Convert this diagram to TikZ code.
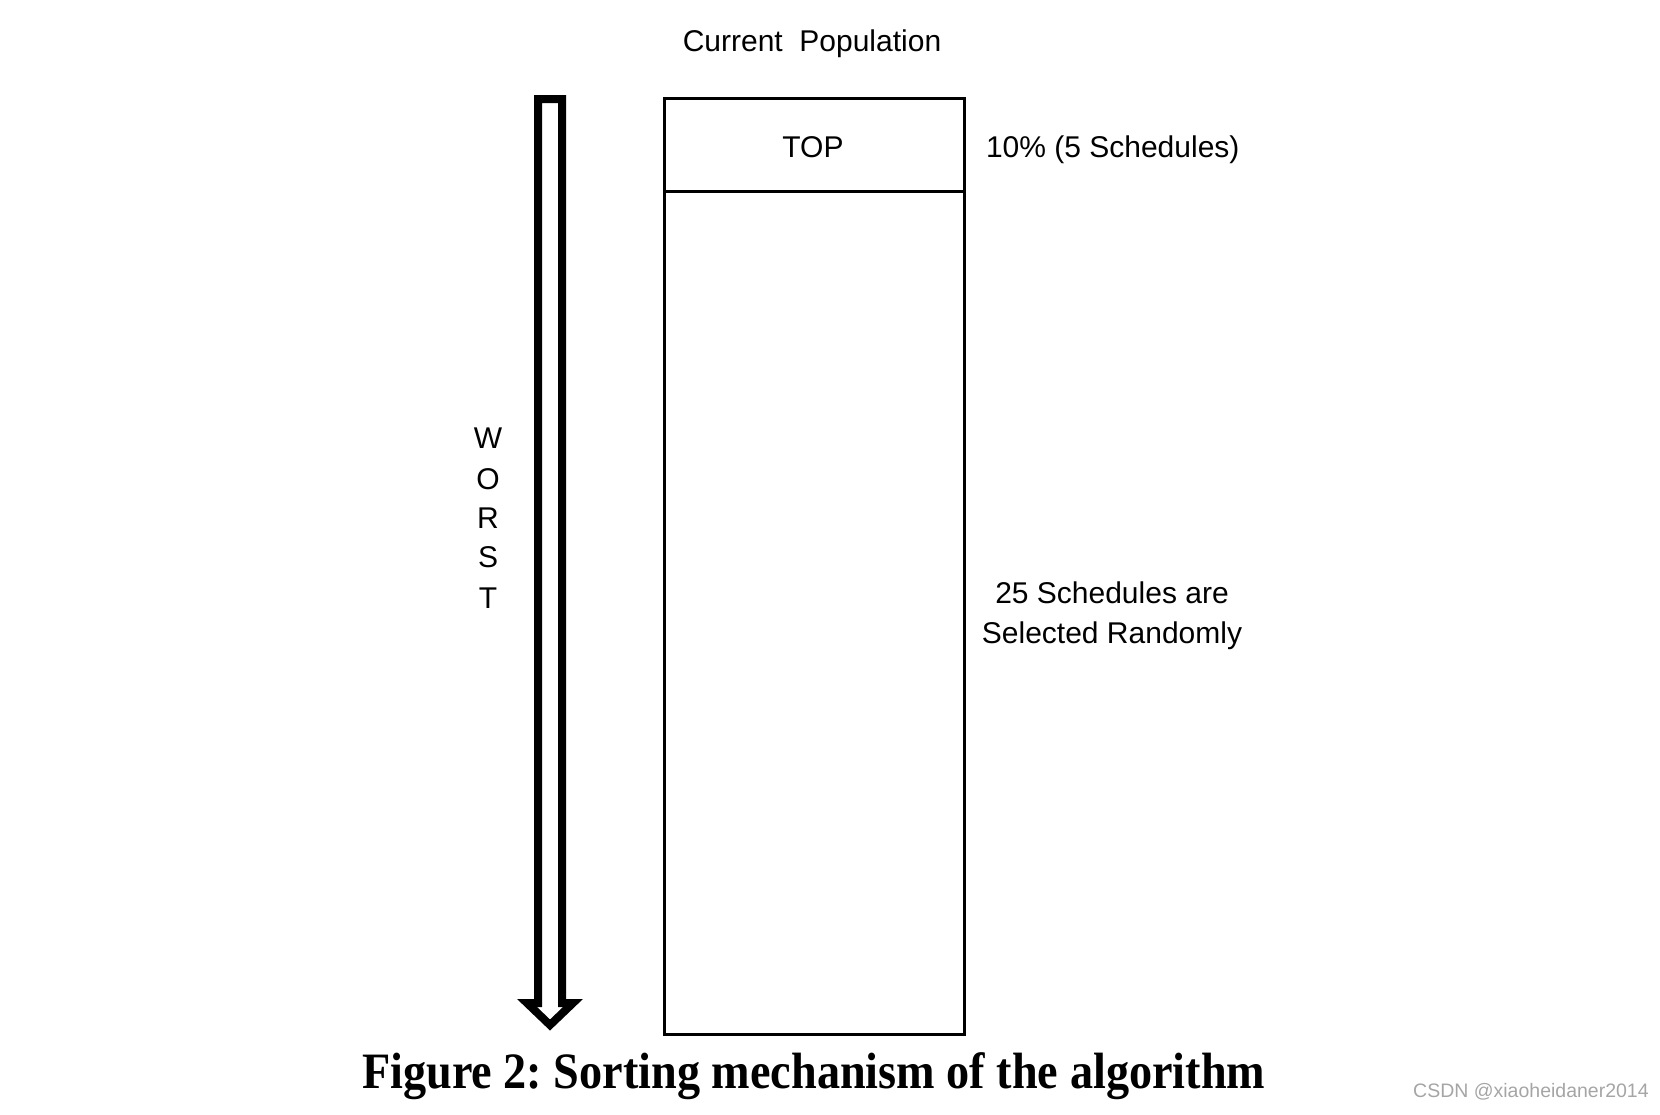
\documentclass[tikz,border=0pt]{standalone}
\usepackage{fontspec}
\setmainfont{Liberation Sans}
\newfontfamily\capfont{Liberation Serif}
\usepackage{graphicx}
\definecolor{wmgray}{RGB}{165,165,165}
\begin{document}
\frenchspacing
\begin{tikzpicture}[x=1pt,y=-1pt,
  lbl/.style={inner sep=0pt, outer sep=0pt, anchor=base, font=\fontsize{30}{35}\selectfont},
  boxline/.style={draw=black, line width=3pt},
  bigarrow/.style={draw=black, line width=8pt, miter limit=10, line join=miter}]
\useasboundingbox (0,0) rectangle (1660,1114);
% population box
\node (pop) [boxline, anchor=north west, minimum width=300pt, minimum height=936pt, inner sep=0pt] at (663,97) {};
\coordinate (divl) at (663,191);
\coordinate (divr) at (963,191);
\draw[boxline] (divl) -- (divr);
\node (top) [lbl] at (813,157) {TOP};
% titles and labels
\node (cur) [lbl] at (812,51) {Current\ \ Population};
\node (pct) [lbl, anchor=base west] at (986,157) {10\% (5 Schedules)};
\node (sel1) [lbl] at (1112,603) {25 Schedules are};
\node (sel2) [lbl] at (1112,643) {Selected Randomly};
% WORST letters
\node (w1) [lbl] at (488,448) {W};
\node (w2) [lbl] at (488,489) {O};
\node (w3) [lbl] at (488,528) {R};
\node (w4) [lbl] at (488,567) {S};
\node (w5) [lbl] at (488,608) {T};
% outlined arrow
\draw[bigarrow] (538,99) -- (562,99) -- (562,1003) -- (573,1003) -- (550,1025) -- (527,1003) -- (538,1003) -- cycle;
% caption
\node (cap) [inner sep=0pt, anchor=base west] at (362,1088)
  {\resizebox{903pt}{\height}{\capfont\bfseries\fontsize{51}{55}\selectfont Figure 2: Sorting mechanism of the algorithm}};
% watermark
\node (wm) [inner sep=0pt, anchor=base west, text=wmgray, font=\fontsize{19.5}{22}\selectfont] at (1413,1097) {CSDN @xiaoheidaner2014};
\end{tikzpicture}
\end{document}
